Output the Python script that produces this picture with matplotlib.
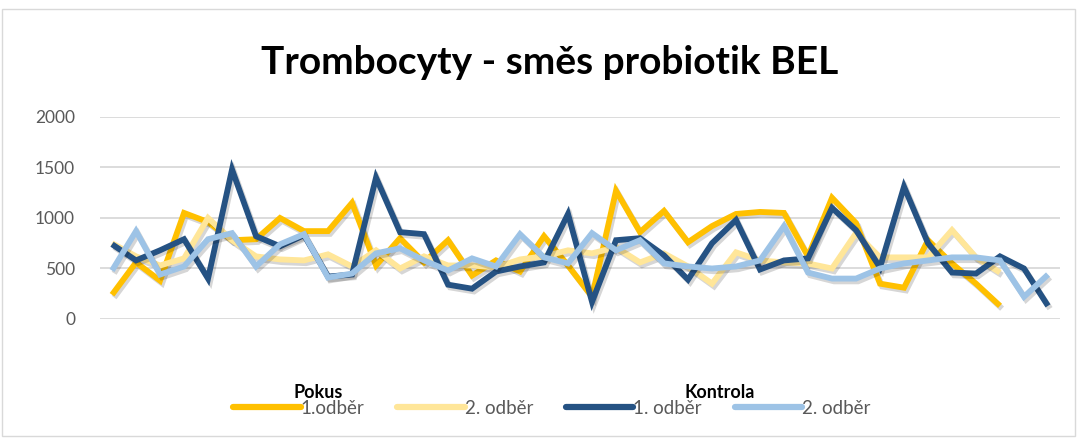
import matplotlib
matplotlib.use("Agg")
import matplotlib.pyplot as plt
import matplotlib.patheffects as pe
from matplotlib.lines import Line2D
from matplotlib.patches import Rectangle

plt.rcParams['font.family'] = ['Lato', 'DejaVu Sans']

# Data
pokus_1 = [240, 560, 380, 1050, 960, 780, 790, 1000, 870, 870,
           1150, 530, 800, 560, 780, 430, 580, 470, 820, 530,
           220, 1270, 860, 1070, 760, 920, 1040, 1060, 1050, 620,
           1200, 950, 350, 310, 780, 550, 350, 130]
pokus_2 = [750, 620, 530, 600, 1000, 780, 620, 590, 580, 640,
           520, 680, 500, 620, 530, 530, 510, 590, 620, 680,
           650, 710, 560, 650, 520, 350, 660, 580, 560, 550,
           500, 850, 610, 610, 610, 880, 610, 460]
kontrola_1 = [740, 580, 680, 790, 400, 1480, 820, 720, 830, 420,
              440, 1400, 860, 840, 340, 300, 470, 520, 560, 1040,
              170, 780, 800, 630, 390, 750, 980, 490, 580, 600,
              1100, 880, 510, 1310, 750, 460, 450, 620, 500, 130]
kontrola_2 = [480, 870, 440, 520, 790, 850, 520, 740, 840, 410,
              450, 650, 700, 580, 480, 600, 520, 840, 610, 550,
              850, 680, 780, 550, 520, 500, 520, 580, 920, 460,
              400, 400, 500, 550, 580, 610, 610, 580, 220, 440]

series_names = ['1.odběr', '2. odběr', '1. odběr', '2. odběr']
series_colors = ['#FFC000', '#FFE699', '#255283', '#9DC3E6']
yticks = [0, 500, 1000, 1500, 2000]

fig = plt.figure(figsize=(10.78, 4.38), dpi=100)
ax = fig.add_axes([0.0928, 0.2717, 0.8905, 0.4612])

shadow = [pe.SimpleLineShadow(offset=(1.5, -2), shadow_color='black', alpha=0.16),
          pe.Normal()]

all_series = [pokus_1, pokus_2, kontrola_1, kontrola_2]
for vals, col in zip(all_series, series_colors):
    ax.plot(range(len(vals)), vals, color=col, linewidth=4.2,
            solid_joinstyle='miter', solid_capstyle='butt',
            path_effects=shadow)

ax.set_ylim(0, 2000)
ax.set_xlim(-0.5, 39.5)
ax.set_yticks(yticks)
ax.set_xticks([])
ax.tick_params(axis='y', length=0, pad=18, labelsize=12.5, labelcolor='#595959')
ax.grid(axis='y', color='#D9D9D9', linewidth=1.3)
ax.set_axisbelow(True)
for s in ax.spines.values():
    s.set_visible(False)

fig.text(0.51, 0.858, 'Trombocyty - směs probiotik BEL', ha='center', va='center',
         fontsize=28, fontweight='bold', color='black')

# Legend
handles = [Line2D([0], [0], color=c, linewidth=4.5, solid_capstyle='round')
           for c in series_colors]
leg = fig.legend(handles, series_names, loc='center', bbox_to_anchor=(0.512, 0.068),
                 ncol=4, frameon=False, handlelength=3.6, handletextpad=0.0,
                 columnspacing=1.75, fontsize=13.5)
for t in leg.get_texts():
    t.set_color('#595959')

fig.text(0.295, 0.105, 'Pokus', ha='center', va='center', fontsize=13,
         fontweight='bold', color='black')
fig.text(0.668, 0.105, 'Kontrola', ha='center', va='center', fontsize=13,
         fontweight='bold', color='black')

fig.patches.append(Rectangle((0.002, 0.005), 0.995, 0.975, transform=fig.transFigure,
                             fill=False, edgecolor='#D9D9D9', linewidth=1))

fig.savefig('out.png', dpi=100, facecolor='white')
